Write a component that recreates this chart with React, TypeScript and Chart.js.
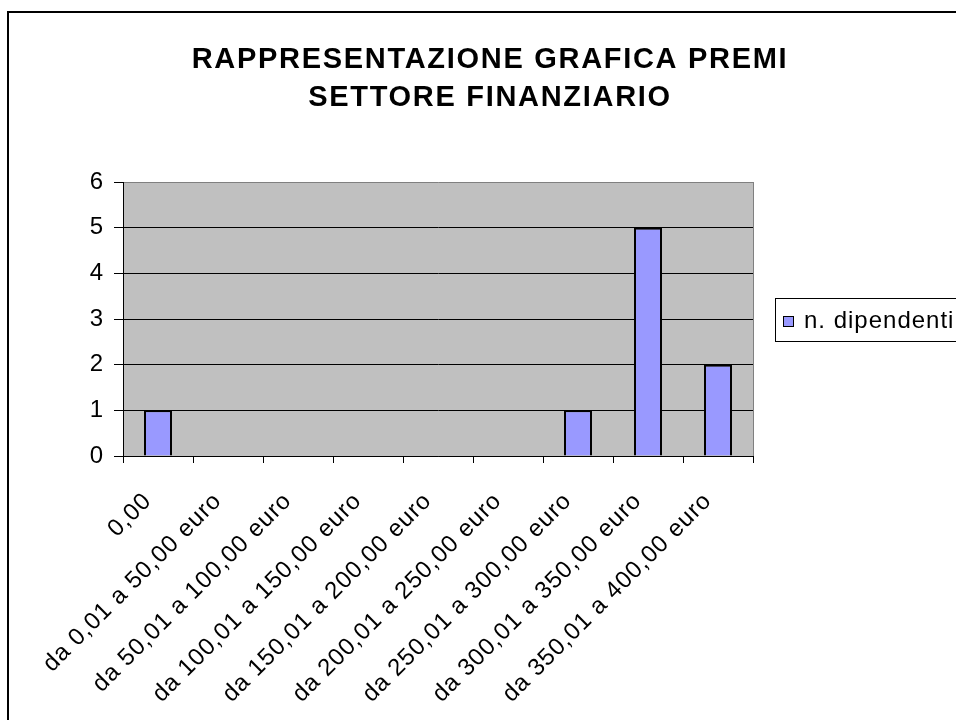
import React, { useEffect, useRef } from 'react';
import { Chart, registerables } from 'chart.js';

Chart.register(...registerables);

const TITLE_LINES = ['RAPPRESENTAZIONE GRAFICA PREMI', 'SETTORE FINANZIARIO'];
const CATEGORIES = [
  '0,00',
  'da 0,01 a 50,00 euro',
  'da 50,01 a 100,00 euro',
  'da 100,01 a 150,00 euro',
  'da 150,01 a 200,00 euro',
  'da 200,01 a 250,00 euro',
  'da 250,01 a 300,00 euro',
  'da 300,01 a 350,00 euro',
  'da 350,01 a 400,00 euro',
];
const SERIES_LABEL = 'n. dipendenti';
const SERIES_VALUES = [1, 0, 0, 0, 0, 0, 1, 5, 2];
const Y_MIN = 0;
const Y_MAX = 6;
const Y_STEP = 1;

const FONT = "'Liberation Sans', Arial, sans-serif";
const BAR_COLOR = '#9999FF';
const PLOT_BG = '#C0C0C0';
const CANVAS_W = 1000;
const CANVAS_H = 760;
const LETTER_SPACING = '1px';
const LABEL_SIZE = 24;

const spacingPlugin = {
  id: 'spacing',
  beforeUpdate(chart: any) {
    chart.ctx.letterSpacing = LETTER_SPACING;
  },
  beforeLayout(chart: any) {
    chart.ctx.letterSpacing = LETTER_SPACING;
  },
  beforeDraw(chart: any) {
    chart.ctx.letterSpacing = LETTER_SPACING;
  },
};

const backgroundPlugin = {
  id: 'excelBackground',
  beforeDraw(chart: any) {
    const { ctx, chartArea } = chart;
    ctx.save();
    ctx.fillStyle = '#FFFFFF';
    ctx.fillRect(0, 0, chart.width, chart.height);
    // outer frame
    ctx.strokeStyle = '#000000';
    ctx.lineWidth = 2;
    ctx.beginPath();
    ctx.moveTo(8, chart.height + 10);
    ctx.lineTo(8, 12);
    ctx.lineTo(chart.width + 10, 12);
    ctx.stroke();
    // plot area
    ctx.fillStyle = PLOT_BG;
    ctx.fillRect(chartArea.left, chartArea.top, chartArea.right - chartArea.left, chartArea.bottom - chartArea.top);
    ctx.strokeStyle = '#808080';
    ctx.lineWidth = 1;
    ctx.beginPath();
    ctx.moveTo(Math.round(chartArea.right) + 0.5, chartArea.top);
    ctx.lineTo(Math.round(chartArea.right) + 0.5, chartArea.bottom);
    ctx.stroke();
    ctx.restore();
  },
};

const titleLegendPlugin = {
  id: 'titleLegend',
  afterDraw(chart: any) {
    const { ctx } = chart;
    ctx.save();
    // title
    ctx.fillStyle = '#000000';
    ctx.font = `bold 29px ${FONT}`;
    ctx.letterSpacing = '1.7px';
    ctx.textAlign = 'center';
    ctx.textBaseline = 'alphabetic';
    ctx.fillText(TITLE_LINES[0], 490, 68);
    ctx.fillText(TITLE_LINES[1], 490, 106);
    // legend
    ctx.letterSpacing = LETTER_SPACING;
    ctx.strokeStyle = '#000000';
    ctx.lineWidth = 1;
    ctx.strokeRect(775.5, 298.5, 200, 43);
    const ds = chart.data.datasets[0];
    ctx.fillStyle = ds.backgroundColor;
    ctx.fillRect(783, 316, 10, 10);
    ctx.strokeRect(783.5, 316.5, 10, 10);
    ctx.fillStyle = '#000000';
    ctx.font = `${LABEL_SIZE}px ${FONT}`;
    ctx.textAlign = 'left';
    ctx.fillText(ds.label, 804, 328);
    ctx.restore();
  },
};

export default function App() {
  const canvasRef = useRef<HTMLCanvasElement | null>(null);

  useEffect(() => {
    const canvas = canvasRef.current;
    if (!canvas) return;
    const chart = new Chart(canvas, {
      type: 'bar',
      data: {
        labels: CATEGORIES,
        datasets: [
          {
            label: SERIES_LABEL,
            data: SERIES_VALUES,
            backgroundColor: BAR_COLOR,
            borderColor: '#000000',
            borderWidth: 2,
            barPercentage: 0.4,
            categoryPercentage: 1,
          },
        ],
      },
      options: {
        responsive: false,
        animation: false,
        devicePixelRatio: 1,
        layout: {
          padding: { left: 0, top: 182, right: CANVAS_W - 753, bottom: 0 },
        },
        plugins: {
          legend: { display: false },
          title: { display: false },
          tooltip: { enabled: false },
        },
        scales: {
          x: {
            type: 'category',
            offset: true,
            afterFit(scale: any) {
              scale.height = CANVAS_H - 456;
            },
            grid: {
              offset: true,
              drawOnChartArea: false,
              drawTicks: true,
              tickLength: 7,
              color: '#000000',
              tickColor: '#000000',
            },
            border: { display: true, color: '#000000', width: 1 },
            ticks: {
              autoSkip: false,
              maxRotation: 45,
              minRotation: 45,
              padding: 24,
              labelOffset: -10,
              color: '#000000',
              font: { family: FONT, size: LABEL_SIZE },
            },
          },
          y: {
            min: Y_MIN,
            max: Y_MAX,
            afterFit(scale: any) {
              scale.width = 123;
            },
            grid: {
              color: (c: any) => (c.tick && c.tick.value === Y_MAX ? '#808080' : '#000000'),
              tickColor: '#000000',
              tickLength: 9,
              lineWidth: 1,
            },
            border: { display: true, color: '#000000', width: 1 },
            ticks: {
              stepSize: Y_STEP,
              padding: 10,
              color: '#000000',
              font: { family: FONT, size: LABEL_SIZE },
            },
          },
        },
      },
      plugins: [spacingPlugin, backgroundPlugin, titleLegendPlugin],
    } as any);
    return () => chart.destroy();
  }, []);

  return (
    <div
      style={{
        position: 'absolute',
        left: 0,
        top: 0,
        width: 956,
        height: 720,
        overflow: 'hidden',
        background: '#FFFFFF',
      }}
    >
      <canvas ref={canvasRef} width={CANVAS_W} height={CANVAS_H} style={{ display: 'block' }} />
    </div>
  );
}
